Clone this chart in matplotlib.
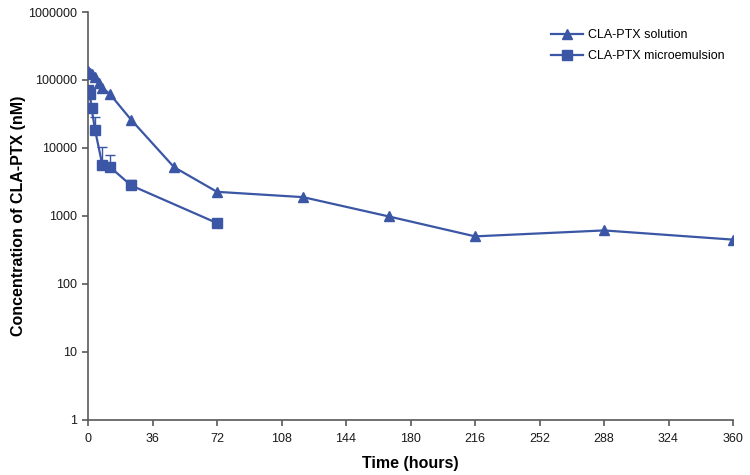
import matplotlib
matplotlib.use("Agg")
import matplotlib.pyplot as plt
from matplotlib.ticker import FixedLocator, FixedFormatter, NullLocator
import numpy as np

plt.rcParams['font.family'] = ['Liberation Sans', 'DejaVu Sans']

# Data
sol_t = [0.25, 1, 2, 4, 6, 8, 12, 24, 48, 72, 120, 168, 216, 288, 360]
sol_c = [135000, 128000, 122000, 112000, 90000, 76000, 63000, 26000, 5200, 2250, 1880, 975, 497, 608, 445]

me_t = [0.25, 1, 2, 4, 8, 12, 24, 72]
me_c = [71000, 63000, 38000, 18000, 5600, 5300, 2800, 780]
me_err_up = [0, 0, 0, 10000, 4600, 2600, 600, 0]

x_ticks = [0, 36, 72, 108, 144, 180, 216, 252, 288, 324, 360]
y_ticks = [1, 10, 100, 1000, 10000, 100000, 1000000]
y_labels = ["1", "10", "100", "1000", "10000", "100000", "1000000"]

color = '#3A56A5'
axis_color = '#595959'

fig = plt.figure(figsize=(7.5, 4.75), dpi=100)
ax = fig.add_axes([88/750, 1 - 419.5/475, (733-88)/750, (419.5-12)/475])

ax.plot(sol_t, sol_c, color=color, lw=1.6, marker='^', ms=7, mec=color, mfc=color,
        label='CLA-PTX solution', zorder=3)
ax.errorbar(me_t, me_c, yerr=[np.zeros(len(me_t)), me_err_up], fmt='none',
            ecolor=color, elinewidth=1, capsize=3.5, capthick=1, zorder=2)
ax.plot(me_t, me_c, color=color, lw=1.6, marker='s', ms=6.5, mec=color, mfc=color,
        label='CLA-PTX microemulsion', zorder=3)

ax.set_yscale('log')
ax.set_xlim(0, 360)
ax.set_ylim(1, 1000000)
ax.yaxis.set_major_locator(FixedLocator(y_ticks))
ax.yaxis.set_major_formatter(FixedFormatter(y_labels))
ax.yaxis.set_minor_locator(NullLocator())
ax.set_xticks(x_ticks)
ax.set_xticklabels([str(v) for v in x_ticks])

for s in ['top', 'right']:
    ax.spines[s].set_visible(False)
for s in ['left', 'bottom']:
    ax.spines[s].set_color(axis_color)
    ax.spines[s].set_linewidth(1.2)
ax.tick_params(axis='both', colors=axis_color, labelcolor='#1a1a1a', labelsize=9,
               length=4.5, width=1.2, direction='out')
ax.tick_params(axis='x', pad=5)

ax.set_xlabel('Time (hours)', fontsize=11.5, fontweight='bold', labelpad=8)
ax.set_ylabel('Concentration of CLA-PTX (nM)', fontsize=11.5, fontweight='bold', labelpad=1)

ax.legend(loc='upper left', bbox_to_anchor=(0.70, 0.985),
          frameon=False, fontsize=9, handlelength=2.6, handletextpad=0.4,
          labelspacing=0.7)

fig.savefig('out.png', dpi=100)
